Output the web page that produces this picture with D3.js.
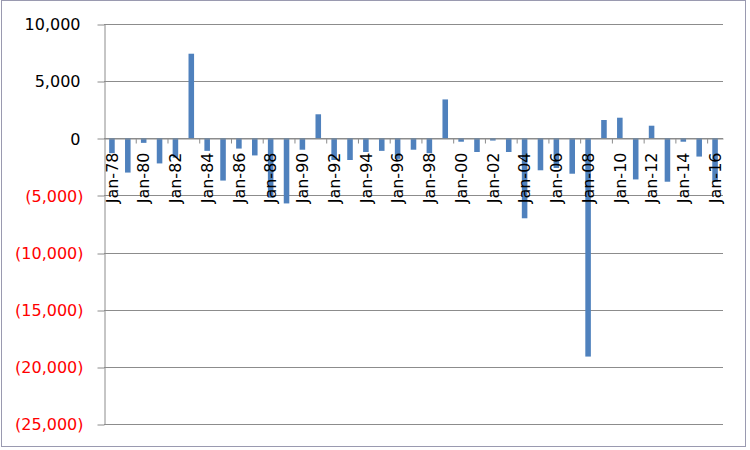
<!DOCTYPE html>
<html>
<head>
<meta charset="utf-8">
<script src="https://cdn.jsdelivr.net/npm/d3@7"></script>
<style>
  html, body { margin: 0; padding: 0; background: #fff; }
  svg { display: block; }
  text { font-family: "DejaVu Sans", Verdana, sans-serif; }
</style>
</head>
<body>
<svg id="chart" width="750" height="450"></svg>
<script>
// ---- data ----
const categories = ["Jan-78","Jan-79","Jan-80","Jan-81","Jan-82","Jan-83","Jan-84","Jan-85","Jan-86","Jan-87",
  "Jan-88","Jan-89","Jan-90","Jan-91","Jan-92","Jan-93","Jan-94","Jan-95","Jan-96","Jan-97",
  "Jan-98","Jan-99","Jan-00","Jan-01","Jan-02","Jan-03","Jan-04","Jan-05","Jan-06","Jan-07",
  "Jan-08","Jan-09","Jan-10","Jan-11","Jan-12","Jan-13","Jan-14","Jan-15","Jan-16"];
const values = [-1300,-3000,-400,-2200,-1700,7400,-1100,-3700,-900,-1500,
  -5200,-5700,-1000,2100,-1900,-1900,-1200,-1100,-1800,-1000,
  -1300,3400,-300,-1200,-200,-1200,-7000,-2800,-2600,-3100,
  -19100,1600,1800,-3600,1100,-3800,-300,-1600,-3800];
const yTicks = [10000,5000,0,-5000,-10000,-15000,-20000,-25000];
const labelCats = categories.filter((d,i) => i % 2 === 0);

// ---- layout ----
const svg = d3.select("#chart");
const plotL = 104, plotR = 723, plotT = 24, plotB = 424;

// outer border
svg.append("rect").attr("x",1.5).attr("y",0.5).attr("width",744).attr("height",446)
  .attr("fill","#fff").attr("stroke","#9a9ab0").attr("stroke-width",1);

const y = d3.scaleLinear().domain([-25000,10000]).range([plotB, plotT]);
const x = d3.scaleBand().domain(categories).range([plotL, plotR])
  .paddingInner(0.65).paddingOuter(0.325);
const xb = d3.scaleLinear().domain([0, categories.length]).range([plotL, plotR]);

// gridlines
svg.append("g").selectAll("line").data(yTicks).join("line")
  .attr("x1", plotL).attr("x2", plotR)
  .attr("y1", d => Math.round(y(d)) + 0.5).attr("y2", d => Math.round(y(d)) + 0.5)
  .attr("stroke", "#8c8c8c").attr("stroke-width", 1);

// y axis
const yAxis = svg.append("g").attr("transform", `translate(${plotL + 0.5},0)`)
  .call(d3.axisLeft(y).tickValues(yTicks).tickSize(7).tickSizeOuter(0)
    .tickFormat(d => d < 0 ? "(" + d3.format(",")(-d) + ")" : d3.format(",")(d)));
yAxis.select(".domain").attr("stroke", "#8c8c8c");
yAxis.selectAll(".tick line").attr("stroke", "#8c8c8c")
  .attr("transform", d => `translate(0,${Math.round(y(d)) + 0.5 - y(d)})`);
yAxis.selectAll(".tick text")
  .attr("font-size", "16px")
  .attr("font-family", "'DejaVu Sans', sans-serif")
  .attr("fill", d => d < 0 ? "#ff0000" : "#000")
  .attr("x", d => d < 0 ? -21 : -24)
  .attr("dy", "0.36em");

// bars
svg.append("g").selectAll("rect").data(values).join("rect")
  .attr("x", (d,i) => x(categories[i]))
  .attr("width", x.bandwidth())
  .attr("y", d => y(Math.max(0, d)))
  .attr("height", d => Math.abs(y(d) - y(0)))
  .attr("fill", "#4f81bd");

// x axis line + ticks
const y0 = Math.round(y(0)) + 0.5;
const xTickAxis = svg.append("g").attr("transform", `translate(0,${y0})`)
  .call(d3.axisBottom(xb).tickValues(d3.range(2, categories.length, 2)).tickSize(5).tickSizeOuter(0).tickFormat(""));
xTickAxis.select(".domain").attr("stroke", "#8c8c8c");
xTickAxis.selectAll(".tick line").attr("stroke", "#8c8c8c");

// category labels (rotated)
const labAxis = svg.append("g").attr("transform", `translate(0,${y0})`)
  .call(d3.axisBottom(x).tickValues(labelCats).tickSize(0).tickSizeOuter(0));
labAxis.select(".domain").remove();
labAxis.selectAll(".tick text")
  .attr("font-size", "16px")
  .attr("font-family", "'DejaVu Sans', sans-serif")
  .attr("fill", "#000")
  .attr("text-anchor", "end")
  .attr("transform", "rotate(-90)")
  .attr("x", -14)
  .attr("y", 0)
  .attr("dy", "0.36em");
</script>
</body>
</html>
